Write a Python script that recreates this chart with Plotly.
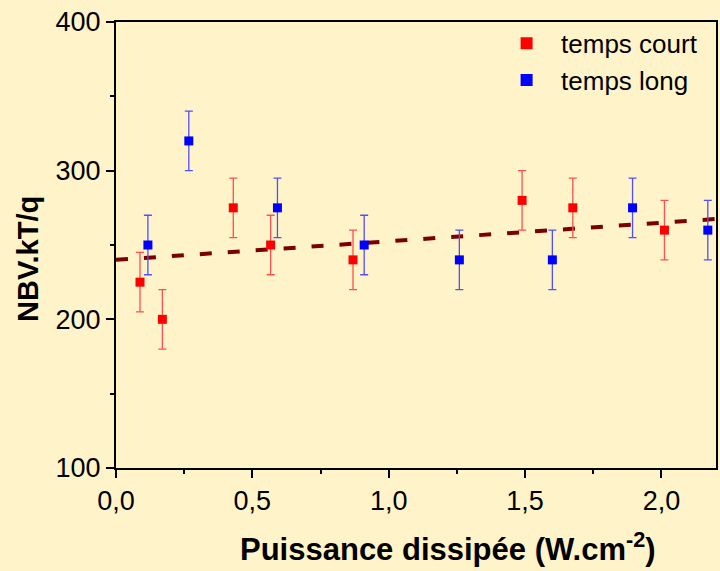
import plotly.graph_objects as go

# temps court (red)
court_x = [0.088, 0.17, 0.43, 0.567, 0.869, 1.489, 1.675, 2.011]
court_y = [225, 200, 275, 250, 240, 280, 275, 260]
court_err = [20, 20, 20, 20, 20, 20, 20, 20]

# temps long (blue)
long_x = [0.117, 0.267, 0.592, 0.91, 1.259, 1.6, 1.894, 2.17]
long_y = [250, 320, 275, 250, 240, 240, 275, 260]
long_err = [20, 20, 20, 20, 20, 20, 20, 20]

# linear fit (dashed)
fit_x = [0.0, 2.2]
fit_y = [240, 267.5]

x_ticks = [0.0, 0.5, 1.0, 1.5, 2.0]
y_ticks = [100, 200, 300, 400]

BG = "#FFF3C9"
FONT = "Liberation Sans, Arial, sans-serif"
NB = "\u00a0\u00a0"

fig = go.Figure()
fig.add_trace(go.Scatter(x=fit_x, y=fit_y, mode="lines", showlegend=False,
                         line=dict(color="#7A0000", width=4, dash="12px,16px")))
fig.add_trace(go.Scatter(
    x=court_x, y=court_y, mode="markers", name=NB + "temps court",
    marker=dict(symbol="square", size=9, color="#FF0000"),
    error_y=dict(type="data", array=court_err, color="#FF5050", thickness=1.3, width=4)))
fig.add_trace(go.Scatter(
    x=long_x, y=long_y, mode="markers", name=NB + "temps long",
    marker=dict(symbol="square", size=9, color="#0000FF"),
    error_y=dict(type="data", array=long_err, color="#5050FF", thickness=1.3, width=4)))

axis_common = dict(showline=True, linecolor="black", linewidth=2, mirror=True,
                   ticks="outside", ticklen=8, tickwidth=1.5, tickcolor="black",
                   showgrid=False, zeroline=False,
                   tickfont=dict(family=FONT, size=27, color="black"))

fig.update_xaxes(range=[0, 2.2], tickvals=x_ticks, tickformat=".1f",
                 minor=dict(ticks="outside", ticklen=4, dtick=0.25, tickcolor="black", tickwidth=1.5),
                 **axis_common)
fig.update_yaxes(range=[100, 400], tickvals=y_ticks,
                 minor=dict(ticks="outside", ticklen=4, dtick=50, tickcolor="black", tickwidth=1.5),
                 **axis_common)

fig.update_layout(
    width=720, height=571,
    paper_bgcolor=BG, plot_bgcolor=BG,
    separators=", ",
    margin=dict(l=116, r=2, t=22, b=103),
    showlegend=True,
    legend=dict(x=0.651, y=1.005, xanchor="left", yanchor="top",
                bgcolor="rgba(0,0,0,0)", font=dict(family=FONT, size=26, color="black"),
                tracegroupgap=0, itemsizing="constant"),
    annotations=[
        dict(text="<b>Puissance dissipée (W.cm<sup>-2</sup>)</b>", xref="paper", yref="paper",
             x=(449 - 116) / 602, y=0, xanchor="center", yanchor="bottom",
             yshift=-101, showarrow=False, font=dict(family=FONT, size=31, color="black")),
        dict(text="<b>NBV.kT/q</b>", xref="paper", yref="paper", textangle=-90,
             x=0, y=(468 - 259) / 446, xanchor="center", yanchor="middle", xshift=-88,
             showarrow=False, font=dict(family=FONT, size=29, color="black")),
    ],
)

fig.write_html("out.html", config={"displayModeBar": False},
               post_script="document.body.style.margin='0';document.body.style.background='" + BG + "';")
